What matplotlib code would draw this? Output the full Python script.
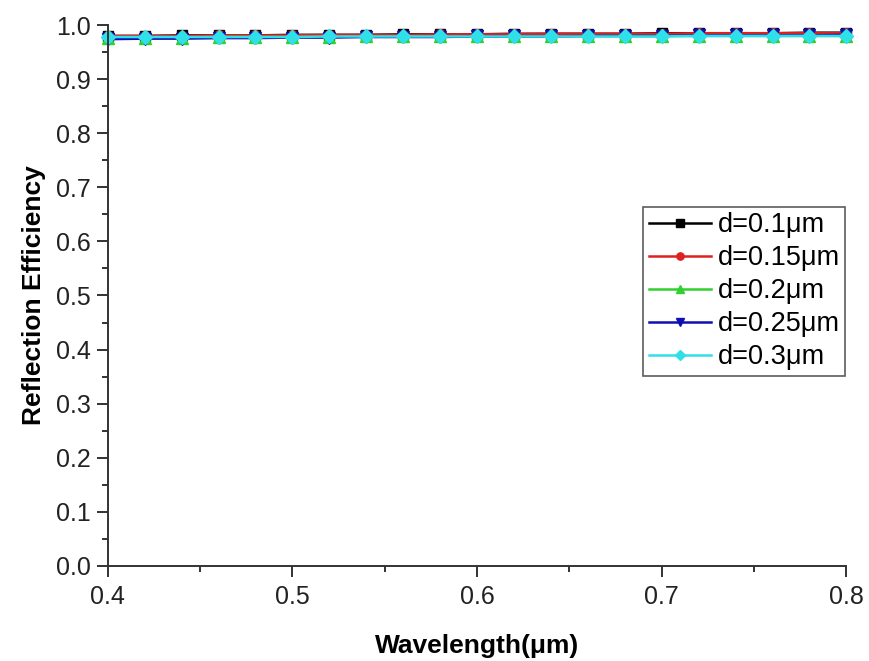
import matplotlib.pyplot as plt
import numpy as np
from matplotlib.ticker import MultipleLocator

plt.rcParams['font.family'] = ['Liberation Sans', 'DejaVu Sans']

wavelength = [0.40, 0.42, 0.44, 0.46, 0.48, 0.50, 0.52, 0.54, 0.56, 0.58, 0.60,
              0.62, 0.64, 0.66, 0.68, 0.70, 0.72, 0.74, 0.76, 0.78, 0.80]

eff_d010 = [0.980, 0.980, 0.981, 0.981, 0.981, 0.982, 0.982, 0.982, 0.983, 0.983, 0.983,
            0.984, 0.984, 0.984, 0.984, 0.985, 0.985, 0.985, 0.985, 0.986, 0.986]
eff_d015 = [0.980, 0.980, 0.980, 0.981, 0.981, 0.981, 0.982, 0.982, 0.982, 0.983, 0.983,
            0.983, 0.984, 0.984, 0.984, 0.984, 0.985, 0.985, 0.985, 0.985, 0.985]
eff_d020 = [0.977, 0.977, 0.977, 0.978, 0.978, 0.978, 0.978, 0.979, 0.979, 0.979, 0.979,
            0.979, 0.979, 0.980, 0.980, 0.980, 0.980, 0.980, 0.980, 0.980, 0.980]
eff_d025 = [0.974, 0.975, 0.975, 0.976, 0.976, 0.977, 0.977, 0.978, 0.978, 0.978, 0.979,
            0.979, 0.979, 0.980, 0.980, 0.980, 0.981, 0.981, 0.981, 0.981, 0.982]
eff_d030 = [0.978, 0.978, 0.978, 0.978, 0.978, 0.978, 0.979, 0.979, 0.979, 0.979, 0.979,
            0.979, 0.979, 0.979, 0.979, 0.979, 0.980, 0.980, 0.980, 0.980, 0.980]

labels = ['d=0.1\u03bcm', 'd=0.15\u03bcm', 'd=0.2\u03bcm', 'd=0.25\u03bcm', 'd=0.3\u03bcm']
series = [eff_d010, eff_d015, eff_d020, eff_d025, eff_d030]
colors = ['#000000', '#e02020', '#30d030', '#1010b0', '#30e0e8']
markers = ['s', 'o', '^', 'v', 'D']
msizes = [7, 7, 8, 8, 7]

fig = plt.figure(figsize=(8.69, 6.61), dpi=100)
ax = fig.add_axes([0.124, 0.144, 0.850, 0.818])

for y, lab, c, m, ms in zip(series, labels, colors, markers, msizes):
    ax.plot(wavelength, y, color=c, marker=m, markersize=ms, lw=1.8, label=lab,
            clip_on=False)

ax.set_xlim(0.4, 0.8)
ax.set_ylim(0.0, 1.0)
ax.xaxis.set_major_locator(MultipleLocator(0.1))
ax.xaxis.set_minor_locator(MultipleLocator(0.05))
ax.yaxis.set_major_locator(MultipleLocator(0.1))
ax.yaxis.set_minor_locator(MultipleLocator(0.05))
ax.xaxis.set_major_formatter(plt.FormatStrFormatter('%.1f'))
ax.yaxis.set_major_formatter(plt.FormatStrFormatter('%.1f'))

for s in ['top', 'right']:
    ax.spines[s].set_visible(False)
for s in ['left', 'bottom']:
    ax.spines[s].set_linewidth(1.4)
    ax.spines[s].set_color('#333333')

ax.tick_params(which='major', direction='out', length=8, width=1.4, labelsize=18,
               colors='#333333', labelcolor='#222222', pad=4)
ax.tick_params(which='minor', direction='out', length=4, width=1.4, colors='#333333')
ax.tick_params(axis='x', pad=6)

ax.set_xlabel('Wavelength(\u03bcm)', fontsize=19, fontweight='bold', labelpad=18)
ax.set_ylabel('Reflection Efficiency', fontsize=19, fontweight='bold', labelpad=7)

leg = ax.legend(loc='upper left', bbox_to_anchor=(0.725, 0.664), fontsize=19.5,
                frameon=True, fancybox=False, edgecolor='#333333', handlelength=2.3,
                handletextpad=0.25, borderpad=0.2, labelspacing=0.26, borderaxespad=0,
                markerscale=0.75)
leg.get_frame().set_linewidth(1.2)

fig.savefig('out.png', dpi=100)
